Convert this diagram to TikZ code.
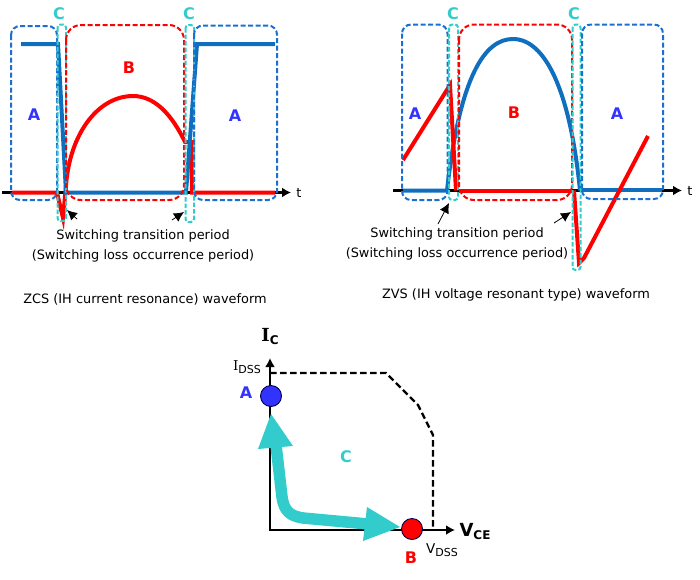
\documentclass[tikz,border=0pt]{standalone}
\usepackage{fontspec}
\setmainfont{DejaVu Sans}
\newfontfamily\serifbold[BoldFont={DejaVu Serif Bold}]{DejaVu Serif}
\usetikzlibrary{arrows.meta}
\definecolor{boxblue}{HTML}{1A6FD0}
\definecolor{waveblue}{HTML}{0F6FBE}
\definecolor{wavered}{HTML}{FF0000}
\definecolor{teal1}{HTML}{33CCCC}
\definecolor{letterblue}{HTML}{3333FF}
\tikzset{
 every node/.style={inner sep=0pt,outer sep=0pt},
 boxA/.style={draw=boxblue,line width=2pt,dash pattern=on 5pt off 2.5pt,rounded corners=9pt},
 boxB/.style={draw=wavered,line width=2pt,dash pattern=on 5pt off 2.5pt,rounded corners=15pt},
 boxC/.style={draw=teal1,line width=2pt,dash pattern=on 4.5pt off 2pt,rounded corners=3pt},
 axisline/.style={draw=black,line width=2.3pt,-{Latex[length=9pt,width=10pt]}},
 bluewave/.style={draw=waveblue,line width=4pt},
 redwave/.style={draw=wavered,line width=4pt},
 callout/.style={draw=black,line width=.8pt,-{Latex[length=10pt,width=10pt]}},
 txt/.style={font=\fontsize{12.9}{15}\selectfont,text=black},
 tlabel/.style={font=\fontsize{12.9}{15}\selectfont,text=black},
 letterA/.style={font=\fontsize{16}{18}\selectfont\bfseries,text=letterblue},
 letterB/.style={font=\fontsize{16}{18}\selectfont\bfseries,text=wavered},
 letterC/.style={font=\fontsize{16}{18}\selectfont\bfseries,text=teal1},
 dot/.style={circle,draw={black!70!blue},line width=.9pt,minimum size=21pt},
}
\begin{document}
\begin{tikzpicture}[x=1pt,y=-1pt]
\useasboundingbox (0,0) rectangle (700,579);
% ---------- ZCS ----------
\draw[axisline] (2,192.5) coordinate (zcsO) -- (291,192.5) coordinate (zcsT);
\draw[redwave] (12,192.5) -- (57,192.5) -- (63,218) -- (66.5,180)
  .. controls (72,130) and (100,96) .. (133,96)
  .. controls (155,96) and (172,115) .. (185,142) -- (191,142) -- (192,192.5) -- (275,192.5);
\draw[bluewave] (21,44) -- (58,44) -- (66,192.5) -- (186,192.5) -- (197,44) -- (275,44);
\draw[boxA] (11,26) rectangle (57,200);
\draw[boxC] (57.5,24.5) rectangle (66,221);
\draw[boxB] (66,25) rectangle (184,200);
\draw[boxC] (185.5,25) rectangle (194,222);
\draw[boxA] (194,25.5) rectangle (277,200);
\node[tlabel] (zcst) at (299,193) {t};
\node[letterC] (zcsC1) at (59,14) {C};
\node[letterC] (zcsC2) at (189,14) {C};
\node[letterA] (zcsA1) at (34,115) {A};
\node[letterB] (zcsB) at (129,68) {B};
\node[letterA] (zcsA2) at (235,116) {A};
\node[txt] (zcsL1) at (143,236) {Switching transition period};
\node[txt] (zcsL2) at (143,256) {(Switching loss occurrence period)};
\node[txt] (zcsCap) at (145,299) {ZCS (IH current resonance) waveform};
\coordinate (za1) at (77,219); \coordinate (za1e) at (67,210);
\coordinate (za2) at (172,220); \coordinate (za2e) at (184,212);
\draw[callout] (za1) -- (za1e);
\draw[callout] (za2) -- (za2e);
% ---------- ZVS ----------
\draw[axisline] (393,190.5) coordinate (zvsO) -- (682,190.5) coordinate (zvsT);
\draw[bluewave] (403,190.5) -- (447,190.5) .. controls (460,75) and (485,39) .. (513,39)
  .. controls (545,39) and (570,90) .. (580,190.5);
\draw[bluewave] (582,190) -- (662,190);
\draw[redwave] (403,160) -- (450,85) -- (456,190.5);
\draw[redwave] (459,190.5) -- (572,190.5);
\draw[redwave] (574,190.5) -- (579,263) -- (584,258) -- (648,136);
\draw[boxA] (402,24.5) rectangle (447.5,200);
\draw[boxC] (449,24.5) rectangle (458,200);
\draw[boxB] (459,24.5) rectangle (572,200);
\draw[boxC] (572.5,24.5) rectangle (580.5,270);
\draw[boxA] (582,24.5) rectangle (663,199);
\node[tlabel] (zvst) at (690,191) {t};
\node[letterC] (zvsC1) at (453,14) {C};
\node[letterC] (zvsC2) at (574,14) {C};
\node[letterA] (zvsA1) at (415,114) {A};
\node[letterB] (zvsB) at (514,113) {B};
\node[letterA] (zvsA2) at (617,114) {A};
\node[txt] (zvsL1) at (457,234) {Switching transition period};
\node[txt] (zvsL2) at (457,254) {(Switching loss occurrence period)};
\node[txt] (zvsCap) at (516,295) {ZVS (IH voltage resonant type) waveform};
\coordinate (va1) at (438,224); \coordinate (va1e) at (449,203);
\coordinate (va2) at (554,223); \coordinate (va2e) at (571,212);
\draw[callout] (va1) -- (va1e);
\draw[callout] (va2) -- (va2e);
% ---------- SOA ----------
\coordinate (soaO) at (270,530);
\coordinate (soaY) at (270,358);
\coordinate (soaX) at (455,530);
\draw[draw=black,line width=2.3pt,{Latex[length=9pt,width=10pt]}-{Latex[length=9pt,width=10pt]},line join=miter] (soaY) -- (soaO) -- (soaX);
\draw[black,line width=2.3pt,dash pattern=on 6.5pt off 3.5pt] (270,373) -- (386,373) -- (418,405) -- (433,435) -- (433,527);
\draw[teal1,line width=11.5pt] (276,445) -- (282,497) .. controls (284,511) and (290,516) .. (303,518) -- (368,524);
\fill[teal1] (271,414) -- (293,446) -- (258,449) -- cycle;
\fill[teal1] (400,527) -- (367,507) -- (363,541) -- cycle;
\node[dot,fill=letterblue] (ptA) at (271,396) {};
\node[dot,fill=wavered] (ptB) at (412,529) {};
\node[font=\serifbold\fontsize{18}{20}\selectfont\bfseries] (lblIc) at (270,337) {I\raisebox{-3pt}{\rmfamily\bfseries\fontsize{12}{13}\selectfont C}};
\node[font=\fontsize{13.5}{15}\selectfont] (lblId) at (247,367) {\serifbold I\rmfamily\raisebox{-3pt}{\fontsize{11}{12}\selectfont DSS}};
\node[letterA] (lblA) at (246,393) {A};
\node[letterB] (lblB) at (411,558) {B};
\node[letterC] (lblC) at (346,457) {C};
\node[font=\fontsize{18}{20}\selectfont\bfseries] (lblV) at (475,532) {V\raisebox{-3pt}{\fontsize{12}{13}\selectfont CE}};
\node[font=\fontsize{13.5}{15}\selectfont] (lblVd) at (442,550) {V\raisebox{-3pt}{\fontsize{11}{12}\selectfont DSS}};
\end{tikzpicture}
\end{document}
